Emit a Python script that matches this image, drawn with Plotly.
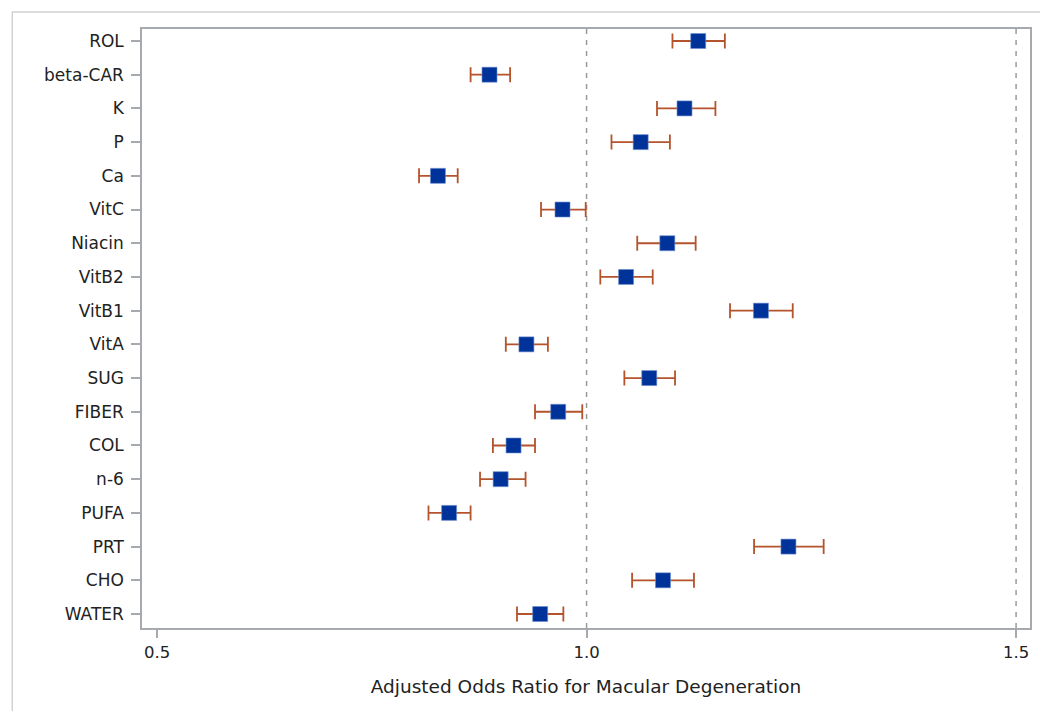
import plotly.graph_objects as go

categories = ["ROL", "beta-CAR", "K", "P", "Ca", "VitC", "Niacin", "VitB2", "VitB1",
              "VitA", "SUG", "FIBER", "COL", "n-6", "PUFA", "PRT", "CHO", "WATER"]
odds_ratio = [1.130, 0.887, 1.114, 1.063, 0.827, 0.972, 1.094, 1.046, 1.203,
              0.930, 1.073, 0.967, 0.915, 0.900, 0.840, 1.235, 1.089, 0.946]
ci_lower = [1.100, 0.865, 1.082, 1.029, 0.805, 0.947, 1.059, 1.016, 1.167,
            0.906, 1.044, 0.940, 0.891, 0.876, 0.816, 1.195, 1.053, 0.919]
ci_upper = [1.161, 0.911, 1.150, 1.097, 0.850, 0.999, 1.127, 1.077, 1.240,
            0.955, 1.103, 0.995, 0.940, 0.929, 0.865, 1.276, 1.125, 0.973]
x_ticks = [0.5, 1.0, 1.5]
x_tick_labels = ["0.5", "1.0", "1.5"]
ref_lines = [1.0, 1.5]
x_title = "Adjusted Odds Ratio for Macular Degeneration"

FONT = "DejaVu Sans"
TEXT = "#222222"
AXIS = "#A6AAAE"

err_plus = [u - m for u, m in zip(ci_upper, odds_ratio)]
err_minus = [m - l for m, l in zip(odds_ratio, ci_lower)]

fig = go.Figure()
fig.add_trace(go.Scatter(
    x=odds_ratio, y=categories, mode="markers",
    marker=dict(symbol="square", size=15, color="#003399",
                line=dict(width=0.6, color="#6f8fd0")),
    error_x=dict(type="data", symmetric=False, array=err_plus, arrayminus=err_minus,
                 color="#B4532C", thickness=1.8, width=7.5),
    showlegend=False, hoverinfo="x+y",
))

for v in ref_lines:
    fig.add_shape(type="line", xref="x", yref="paper", x0=v, x1=v, y0=0, y1=1,
                  line=dict(color="#9A9A9A", width=1.5, dash="5px,6px"), layer="below")

# outer graph border (extends beyond window on right/bottom)
pw, ph = 890.0, 599.0
fig.add_shape(type="rect", xref="paper", yref="paper",
              x0=(12 - 142) / pw, x1=(1046 - 142) / pw,
              y0=(628 - 716) / ph, y1=1 + (29 - 12) / ph,
              line=dict(color="#D2D2D2", width=1.5), fillcolor="rgba(0,0,0,0)")

fig.update_layout(
    width=1040, height=711,
    margin=dict(l=142, r=8, t=29, b=83),
    paper_bgcolor="white", plot_bgcolor="white",
    font=dict(family=FONT, size=17, color=TEXT),
    xaxis=dict(range=[0.4825, 1.5162], tickvals=x_ticks, ticktext=x_tick_labels,
               showgrid=False, zeroline=False, showline=True, mirror=True,
               linecolor=AXIS, linewidth=1.5, ticks="outside", ticklen=8,
               tickcolor=AXIS, tickwidth=1.5,
               tickfont=dict(family=FONT, size=16.5, color=TEXT),
               title=dict(text=x_title, font=dict(family=FONT, size=18.5, color=TEXT), standoff=20)),
    yaxis=dict(type="category", categoryorder="array", categoryarray=categories,
               range=[17.415, -0.356], showgrid=False, zeroline=False,
               showline=True, mirror=True, linecolor=AXIS, linewidth=1.5,
               ticks="outside", ticklen=9, tickcolor=AXIS, tickwidth=1.5,
               ticklabelstandoff=4,
               tickfont=dict(family=FONT, size=17, color=TEXT)),
)

fig.write_html("out.html", config={"displayModeBar": False},
               post_script="document.body.style.margin='0';")
